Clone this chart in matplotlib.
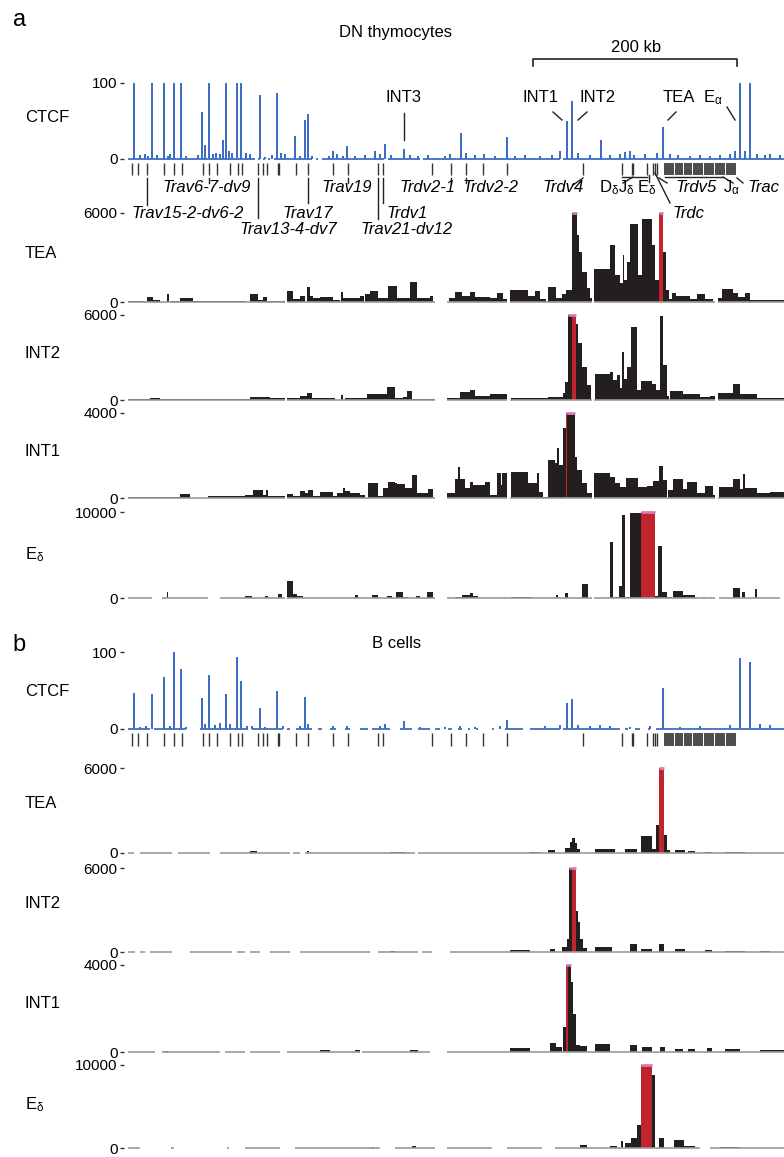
import numpy as np
import matplotlib
matplotlib.use('Agg')
import matplotlib.pyplot as plt

plt.rcParams['font.family'] = ['Liberation Sans', 'DejaVu Sans']
plt.rcParams['mathtext.fontset'] = 'custom'
plt.rcParams['mathtext.rm'] = 'Liberation Sans'
plt.rcParams['mathtext.it'] = 'Liberation Sans:italic'
plt.rcParams['mathtext.bf'] = 'Liberation Sans:bold'

# positions along the locus (kb, arbitrary origin); 1 kb ~ 1 px in the figure
W, H = 784, 1157
X0, X1 = 128, 784

# ---------------- data: panel a (DN thymocytes) ----------------
ctcf_a_pos = [134, 152, 164, 174, 181, 202, 209, 223, 226, 237, 241, 260, 277, 295, 305, 308,
              333, 347, 385, 404, 461, 507, 567, 572, 601, 630, 663, 740, 750]
ctcf_a_val = [100, 100, 100, 100, 100, 62, 100, 25, 100, 100, 100, 84, 87, 30, 51, 59,
              11, 17, 20, 13, 34, 29, 50, 76, 25, 11, 42, 100, 100]
ctcf_a_small = [(140, 5), (145, 6), (148, 4), (157, 5), (168, 4), (170, 6), (186, 4), (198, 5),
                (205, 18), (213, 6), (216, 8), (220, 7), (229, 10), (232, 8), (246, 8), (250, 6),
                (265, 3), (272, 5), (281, 8), (285, 6), (300, 4), (312, 4), (329, 4), (337, 6),
                (343, 4), (355, 4), (365, 5), (375, 10), (380, 7), (391, 5), (410, 5), (418, 4),
                (428, 5), (445, 4), (450, 6), (466, 8), (475, 5), (484, 6), (495, 4), (515, 4),
                (525, 5), (540, 4), (552, 5), (560, 10), (578, 8), (590, 5), (610, 5), (620, 6),
                (625, 9), (634, 5), (645, 6), (657, 8), (670, 6), (678, 5), (690, 4), (700, 5),
                (710, 4), (720, 5), (730, 6), (735, 10), (745, 10), (757, 6), (765, 5), (770, 7),
                (780, 5)]
ctcf_a_cov = [(128, 255), (258, 260), (263, 265), (268, 270), (274, 312), (316, 318), (322, 384),
              (388, 420), (423, 560), (563, 784)]

tea_a = [(128, 145, 40), (147, 153, 340), (153, 160, 130), (167, 169, 540), (170, 180, 70),
         (180, 193, 270), (193, 245, 70), (250, 258, 540), (258, 263, 130), (263, 267, 340),
         (267, 285, 70), (287, 293, 740), (293, 300, 200), (300, 305, 400), (307, 310, 1010),
         (310, 313, 400), (313, 320, 270), (320, 333, 340), (333, 340, 130), (341, 343, 670),
         (343, 360, 270), (360, 364, 400), (365, 370, 540), (370, 378, 740), (378, 388, 270),
         (388, 397, 1080), (397, 410, 270), (410, 417, 1350), (417, 430, 270), (430, 433, 400),
         (449, 455, 270), (455, 462, 670), (462, 470, 400), (470, 475, 670), (475, 490, 340),
         (490, 497, 270), (497, 503, 600), (503, 507, 200), (510, 528, 810), (528, 535, 400),
         (535, 540, 740), (540, 546, 200), (548, 556, 1010), (556, 562, 270), (562, 566, 540),
         (566, 572, 810), (572, 577, 6000), (577, 579, 4520), (579, 582, 3370), (582, 587, 2020),
         (587, 590, 940), (590, 592, 270), (594, 610, 2220), (610, 615, 3840), (615, 620, 1820),
         (620, 623, 1280), (623, 624, 3170), (624, 627, 1480), (627, 630, 2700), (630, 638, 5260),
         (638, 642, 1820), (642, 652, 5600), (652, 655, 3840), (655, 659, 1480), (659, 663, 6000),
         (663, 666, 3370), (666, 669, 810), (669, 672, 200), (672, 676, 600), (676, 690, 400),
         (690, 697, 200), (697, 705, 540), (705, 713, 200), (718, 722, 270), (722, 733, 880),
         (733, 738, 600), (738, 745, 340), (745, 750, 600), (750, 784, 130)]
int2_a = [(128, 150, 60), (150, 160, 140), (160, 190, 50), (190, 250, 60), (250, 270, 210),
          (270, 285, 140), (287, 300, 140), (300, 307, 280), (307, 312, 490), (312, 335, 140),
          (341, 343, 350), (345, 367, 140), (367, 387, 420), (387, 395, 920), (395, 403, 140),
          (403, 407, 200), (407, 412, 640), (412, 435, 70), (447, 460, 140), (460, 470, 570),
          (470, 475, 700), (475, 490, 300), (490, 507, 400), (511, 548, 170), (548, 563, 210),
          (563, 565, 500), (565, 568, 1270), (568, 572, 6000), (572, 576, 6000), (576, 578, 5360),
          (578, 582, 4020), (582, 587, 2330), (587, 591, 1060), (595, 610, 1840), (610, 613, 1980),
          (613, 617, 1400), (617, 620, 1760), (620, 622, 820), (622, 624, 3390), (624, 627, 1500),
          (627, 631, 2330), (631, 637, 5150), (637, 641, 680), (641, 652, 1340), (652, 656, 1130),
          (656, 660, 700), (660, 663, 5900), (663, 667, 2470), (667, 669, 300), (670, 683, 640),
          (683, 688, 420), (688, 700, 420), (700, 710, 200), (710, 715, 300), (718, 733, 500),
          (733, 740, 1130), (740, 757, 400), (757, 784, 170)]
int1_a = [(128, 137, 50), (137, 180, 70), (180, 190, 190), (208, 245, 80), (245, 253, 150),
          (253, 263, 370), (263, 266, 150), (266, 268, 370), (268, 285, 100), (287, 293, 190),
          (293, 300, 100), (300, 305, 320), (305, 308, 230), (308, 313, 370), (313, 320, 100),
          (320, 333, 280), (333, 337, 100), (337, 343, 250), (343, 345, 450), (345, 350, 350),
          (350, 360, 250), (360, 365, 150), (368, 378, 700), (378, 383, 100), (383, 388, 460),
          (388, 395, 750), (395, 397, 700), (397, 405, 650), (405, 412, 460), (412, 417, 1070),
          (417, 428, 230), (428, 433, 420), (447, 455, 230), (455, 458, 880), (458, 460, 1440),
          (460, 465, 880), (465, 470, 460), (470, 473, 750), (473, 485, 600), (485, 490, 750),
          (490, 497, 140), (497, 501, 1160), (501, 502, 600), (502, 507, 1160), (511, 528, 1210),
          (528, 537, 700), (537, 539, 1160), (539, 543, 300), (543, 548, 50), (548, 555, 1810),
          (555, 557, 1670), (557, 559, 2370), (559, 563, 1530), (563, 566, 3300), (566, 567, 4000),
          (567, 575, 4000), (575, 577, 1910), (577, 582, 1300), (582, 587, 700), (587, 592, 230),
          (594, 610, 1160), (610, 615, 1000), (615, 620, 700), (620, 626, 500), (626, 638, 930),
          (638, 647, 500), (647, 653, 550), (653, 659, 780), (659, 663, 1490), (663, 667, 860),
          (668, 673, 370), (673, 683, 880), (683, 687, 420), (687, 697, 750), (697, 705, 230),
          (705, 713, 560), (713, 715, 140), (719, 733, 500), (733, 740, 880), (740, 743, 420),
          (743, 745, 1110), (745, 757, 450), (757, 770, 230), (770, 784, 280)]
ed_a = [(167, 168, 700), (245, 252, 230), (265, 268, 200), (278, 282, 470), (287, 293, 1980),
        (293, 297, 450), (297, 303, 230), (355, 358, 350), (372, 378, 300), (387, 392, 250),
        (396, 403, 700), (403, 408, 150), (416, 420, 250), (427, 433, 700), (455, 462, 150),
        (462, 470, 350), (470, 473, 600), (473, 478, 200), (511, 532, 100), (556, 558, 400),
        (565, 568, 600), (582, 588, 1630), (610, 613, 6500), (613, 619, 150), (619, 622, 1400),
        (622, 625, 9650), (625, 630, 150), (630, 641, 9850), (641, 655, 10000), (655, 658, 200),
        (658, 662, 6050), (662, 667, 700), (667, 672, 150), (673, 683, 800), (683, 695, 300),
        (703, 705, 150), (733, 740, 1200), (742, 745, 700), (755, 757, 1000)]

cov_a = [(128, 285), (287, 435), (447, 507), (510, 592), (594, 715), (718, 784)]
ed_a_cov = [(128, 152), (162, 208), (220, 285), (287, 435), (447, 592), (594, 715), (719, 780)]

# ---------------- data: panel b (B cells) ----------------
ctcf_b_pos = [134, 152, 164, 174, 181, 202, 209, 226, 237, 241, 260, 277, 305, 404, 507,
              567, 572, 663, 740, 750]
ctcf_b_val = [47, 46, 68, 100, 78, 40, 70, 45, 94, 62, 27, 49, 42, 10, 12, 34, 39, 53, 92, 87]
ctcf_b_small = [(140, 3), (146, 4), (170, 4), (186, 3), (205, 6), (215, 5), (220, 8), (230, 6),
                (247, 4), (252, 4), (265, 3), (283, 4), (300, 4), (308, 6), (333, 4), (347, 4),
                (380, 4), (385, 6), (420, 3), (445, 3), (460, 4), (475, 3), (500, 4), (545, 4),
                (560, 5), (578, 5), (590, 4), (600, 5), (610, 4), (630, 3), (650, 4), (680, 3),
                (700, 4), (730, 5), (760, 6), (770, 5)]
ctcf_b_cov = [(128, 150), (154, 186), (200, 248), (252, 283), (287, 290), (296, 312), (318, 322),
              (330, 336), (345, 350), (360, 368), (372, 390), (400, 412), (418, 430), (435, 440),
              (448, 452), (458, 462), (468, 470), (476, 478), (492, 494), (505, 523), (530, 560),
              (563, 620), (625, 628), (635, 640), (648, 650), (656, 784)]

tea_b = [(250, 257, 150), (307, 309, 120), (390, 405, 80), (530, 540, 60), (548, 555, 210),
         (565, 570, 350), (570, 572, 800), (572, 575, 1060), (575, 577, 700), (577, 580, 250),
         (595, 615, 280), (625, 637, 250), (641, 652, 1200), (652, 656, 300), (656, 659, 1980),
         (659, 664, 6000), (664, 667, 1270), (667, 670, 200), (675, 685, 200), (688, 695, 150),
         (705, 712, 100), (725, 745, 60)]
int2_b = [(390, 395, 100), (510, 530, 140), (550, 555, 200), (562, 567, 360), (567, 569, 900),
          (569, 572, 6000), (572, 576, 6000), (576, 578, 2900), (578, 580, 2140), (580, 583, 930),
          (583, 587, 300), (595, 612, 360), (630, 637, 570), (641, 652, 200), (659, 664, 570),
          (675, 685, 200), (705, 712, 150), (725, 745, 100), (760, 770, 100)]
int1_b = [(165, 168, 60), (320, 330, 80), (355, 360, 80), (410, 418, 100), (510, 530, 180),
          (550, 556, 410), (556, 562, 230), (563, 566, 1130), (566, 568, 4000), (568, 571, 4000),
          (571, 573, 3230), (573, 576, 1730), (576, 580, 320), (580, 587, 270), (595, 610, 360),
          (630, 637, 300), (642, 652, 230), (660, 665, 250), (675, 683, 150), (688, 695, 150),
          (707, 712, 200), (725, 740, 130), (760, 784, 80)]
ed_b = [(372, 374, 150), (412, 416, 200), (580, 587, 400), (610, 617, 200), (621, 623, 850),
        (625, 631, 650), (631, 637, 1200), (637, 641, 2800), (641, 652, 10000), (652, 655, 8800),
        (659, 664, 1250), (674, 684, 1000), (684, 695, 300), (720, 740, 150)]

tea_b_cov = [(128, 134), (140, 172), (178, 210), (220, 290), (293, 300), (305, 415), (418, 784)]
int2_b_cov = [(128, 135), (140, 145), (150, 172), (190, 232), (237, 245), (250, 260), (270, 290),
              (300, 370), (378, 418), (422, 432), (450, 784)]
int1_b_cov = [(128, 155), (162, 220), (225, 245), (250, 280), (287, 360), (362, 430), (447, 784)]
ed_b_cov = [(128, 140), (171, 174), (227, 229), (245, 280), (295, 380), (395, 435), (447, 492),
            (507, 542), (555, 700), (710, 784)]

# viewpoint (red) intervals
view = {'tea': (659, 664), 'int2': (572, 576), 'int1': (566, 567.5), 'ed': (641, 652)}

# gene segments
gene_pos = [132, 138, 147, 164, 174, 182, 203, 209, 217, 230, 238, 242, 258, 263, 267, 278, 279,
            296, 308, 333, 348, 378, 383, 432, 451, 466, 483, 507, 583, 622, 632, 633, 647, 653,
            655, 657]
ja_pos = [665, 667, 669, 671, 673, 676, 678, 680, 682, 685, 687, 689, 691, 694, 696, 698, 700,
          702, 705, 707, 709, 711, 713, 716, 718, 720, 722, 724, 727, 729, 731, 733, 735]

gene_labels = [('Trav6-7-dv9', 207, 188), ('Trav15-2-dv6-2', 188, 213),
               ('Trav13-4-dv7', 288, 229), ('Trav17', 308, 213), ('Trav19', 347, 188),
               ('Trdv1', 407, 213), ('Trav21-dv12', 407, 229), ('Trdv2-1', 428, 188),
               ('Trdv2-2', 491, 188), ('Trdv4', 563, 188), ('Trdv5', 696, 188),
               ('Trdc', 689, 213), ('Trac', 764, 188)]
seg_labels = [(r'$\mathregular{D_\delta J_\delta}$', 617, 188),
              (r'$\mathregular{E_\delta}$', 647, 188),
              (r'$\mathregular{J_\alpha}$', 731, 188)]
gene_lines = [((147, 178), (147, 205)), ((209, 178), (209, 183)), ((258, 178), (258, 218)),
              ((308, 178), (308, 203)), ((348, 178), (348, 183)), ((378, 178), (378, 219)),
              ((383, 178), (383, 203)), ((451, 178), (451, 183)), ((466, 178), (466, 183)),
              ((583, 178), (573, 185)), ((622, 177), (647, 177)), ((633, 177), (623, 183)),
              ((649, 175), (649, 182)), ((655, 173), (670, 203)), ((659, 178), (667, 183)),
              ((665, 177), (723, 177)), ((723, 177), (733, 183)), ((737, 178), (743, 183))]

elem_labels = [('INT3', 404, 98), ('INT1', 541, 98), ('INT2', 598, 98), ('TEA', 679, 98),
               (r'$\mathregular{E_\alpha}$', 713, 98)]
elem_lines = [((404, 113), (404, 140)), ((553, 112), (562, 120)), ((587, 112), (578, 120)),
              ((676, 112), (668, 120)), ((727, 107), (735, 120))]

BLUE = '#3d6dc4'
BLACK = '#231f20'
RED = '#c0242c'
PINK = '#d77ab8'
GRAY = '#9a9a9a'

fig = plt.figure(figsize=(W / 100, H / 100), dpi=100)

ov = fig.add_axes([0, 0, 1, 1])
ov.set_xlim(0, W)
ov.set_ylim(H, 0)
ov.axis('off')


def track_ax(y_top, y_zero, ymax):
    ax = fig.add_axes([X0 / W, 1 - y_zero / H, (X1 - X0) / W, (y_zero - y_top) / H])
    ax.set_xlim(X0, X1)
    ax.set_ylim(0, ymax)
    for s in ax.spines.values():
        s.set_visible(False)
    ax.spines['left'].set_position(('outward', 3))
    ax.set_xticks([])
    ax.set_yticks([0, ymax])
    ax.set_yticklabels(['0', str(ymax)])
    ax.tick_params(axis='y', length=3, width=1, color='#333333', labelsize=11, pad=1.5)
    ax.patch.set_alpha(0)
    return ax


def draw_ctcf(y_top, y_zero, pos, val, small, cov, label, ly):
    ax = track_ax(y_top, y_zero, 100)
    for a, b in cov:
        ax.plot([a, b], [0, 0], color=BLUE, lw=1.3, clip_on=False, solid_capstyle='butt')
    ax.bar([p for p, h in small], [h for p, h in small], width=1.2, color=BLUE, lw=0)
    ax.bar(pos, val, width=1.5, color=BLUE, lw=0)
    ov.text(25, ly, label, fontsize=12, va='center', ha='left')


def draw_track(y_top, y_zero, ymax, segs, cov, vp, label, ly):
    ax = track_ax(y_top, y_zero, ymax)
    for a, b in cov:
        ax.plot([a, b], [0, 0], color=GRAY, lw=1.2, clip_on=False, solid_capstyle='butt')
    for s, e, v in segs:
        mid = (s + e) / 2
        col = RED if vp[0] <= mid <= vp[1] else BLACK
        ax.bar(s, min(v, ymax), width=e - s, align='edge', color=col, lw=0)
        if v >= ymax:
            ax.plot([s, e], [ymax, ymax], color=PINK, lw=2, clip_on=False, solid_capstyle='butt')
    ov.text(25, ly, label, fontsize=12, va='center', ha='left')


ED = r'$\mathregular{E_\delta}$'

# panel a
ov.text(13, 20, 'a', fontsize=17, va='center')
ov.text(396, 32, 'DN thymocytes', fontsize=12, ha='center', va='center')
ov.plot([533, 533, 737, 737], [66, 59, 59, 66], color='#222222', lw=1.2)
ov.text(636, 48, '200 kb', fontsize=12, ha='center', va='center')
for name, x, y in elem_labels:
    ov.text(x, y, name, fontsize=12, ha='center', va='center')
for (xa, ya), (xb, yb) in elem_lines:
    ov.plot([xa, xb], [ya, yb], color='#222222', lw=1)

draw_ctcf(83, 159, ctcf_a_pos, ctcf_a_val, ctcf_a_small, ctcf_a_cov, 'CTCF', 118)
ov.vlines(gene_pos, 163, 175, color='#333333', lw=1)
ov.vlines(ja_pos, 163, 175, color='#222222', lw=1.15, snap=False)
for name, x, y in gene_labels:
    ov.text(x, y, name, fontsize=12, style='italic', ha='center', va='center')
for name, x, y in seg_labels:
    ov.text(x, y, name, fontsize=12, ha='center', va='center')
for (xa, ya), (xb, yb) in gene_lines:
    ov.plot([xa, xb], [ya, yb], color='#222222', lw=1)

draw_track(213, 302, 6000, tea_a, cov_a, view['tea'], 'TEA', 253)
draw_track(315, 400, 6000, int2_a, cov_a, view['int2'], 'INT2', 353)
draw_track(413, 498, 4000, int1_a, cov_a, view['int1'], 'INT1', 452)
draw_track(512, 598, 10000, ed_a, ed_a_cov, view['ed'], ED, 555)

# panel b
ov.text(12, 645, 'b', fontsize=17, va='center')
ov.text(397, 643, 'B cells', fontsize=12, ha='center', va='center')
draw_ctcf(652, 729, ctcf_b_pos, ctcf_b_val, ctcf_b_small, ctcf_b_cov, 'CTCF', 692)
ov.vlines(gene_pos, 733, 746, color='#333333', lw=1)
ov.vlines(ja_pos, 733, 746, color='#222222', lw=1.15, snap=False)

draw_track(768, 853, 6000, tea_b, tea_b_cov, view['tea'], 'TEA', 803)
draw_track(868, 952, 6000, int2_b, int2_b_cov, view['int2'], 'INT2', 903)
draw_track(965, 1052, 4000, int1_b, int1_b_cov, view['int1'], 'INT1', 1003)
draw_track(1065, 1148, 10000, ed_b, ed_b_cov, view['ed'], ED, 1105)

fig.savefig('out.png', dpi=100)
